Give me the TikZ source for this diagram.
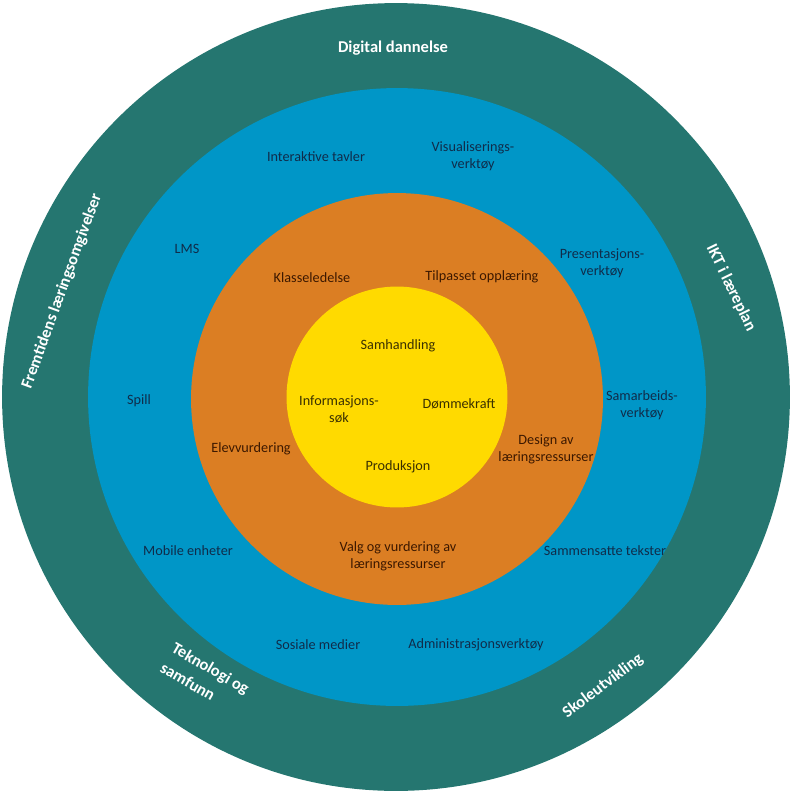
\documentclass[tikz,border=0pt]{standalone}
\usepackage{fontspec}
\setmainfont{Carlito}
\usetikzlibrary{positioning}

\definecolor{tealring}{RGB}{37,118,112}
\definecolor{bluering}{RGB}{0,150,199}
\definecolor{orangering}{RGB}{219,126,35}
\definecolor{yellowcore}{RGB}{255,218,0}
\definecolor{navytext}{RGB}{16,44,74}
\definecolor{browntext}{RGB}{60,24,0}
\definecolor{olivetext}{RGB}{58,48,0}

\begin{document}
\begin{tikzpicture}[
    x=0.02cm, y=-0.02cm,
    ring/.style={circle, inner sep=0pt, draw=none},
    outerlbl/.style={font=\fontsize{9.4}{13}\selectfont\bfseries, text=white, align=center},
    toollbl/.style={font=\fontsize{8.1}{9.6}\selectfont, text=navytext, align=center},
    practlbl/.style={font=\fontsize{8.1}{9.6}\selectfont, text=browntext, align=center},
    corelbl/.style={font=\fontsize{8.1}{9.6}\selectfont, text=olivetext, align=center}
]
\useasboundingbox (0,0) rectangle (792,795);
\node[ring, fill=tealring, minimum size=15.76cm] (outer) at (396,397) {};
\node[ring, fill=bluering, minimum size=12.36cm] (tools) at (397,397) {};
\node[ring, fill=orangering, minimum size=8.24cm] (practice) at (397,399) {};
\node[ring, fill=yellowcore, minimum size=4.42cm] (core) at (397,397) {};

% outer ring
\node[outerlbl] (digital) at (393,48) {Digital dannelse};
\node[outerlbl, rotate=70] (fremtid) at (62,291) {Fremtidens læringsomgivelser};
\node[outerlbl, rotate=-64] (ikt) at (731,288) {IKT i læreplan};
\node[outerlbl, rotate=-30, align=left] (teknologi) at (205,678) {Teknologi og\\samfunn};
\node[outerlbl, rotate=37] (skole) at (603,686) {Skoleutvikling};

% tools
\node[toollbl] (tavler) at (316,157) {Interaktive tavler};
\node[toollbl] (visual) at (473,156) {Visualiserings-\\verktøy};
\node[toollbl] (lms) at (187,249) {LMS};
\node[toollbl] (present) at (602,263) {Presentasjons-\\verktøy};
\node[toollbl] (spill) at (139,401) {Spill};
\node[toollbl] (samarb) at (642,405) {Samarbeids-\\verktøy};
\node[toollbl] (mobile) at (188,551) {Mobile enheter};
\node[toollbl] (sammen) at (605,551) {Sammensatte tekster};
\node[toollbl] (sosiale) at (318,645) {Sosiale medier};
\node[toollbl] (admin) at (476,645) {Administrasjonsverktøy};

% practice
\node[practlbl] (klasse) at (312,278) {Klasseledelse};
\node[practlbl] (tilpasset) at (482,277) {Tilpasset opplæring};
\node[practlbl] (elev) at (251,449) {Elevvurdering};
\node[practlbl] (design) at (546,449) {Design av\\læringsressurser};
\node[practlbl] (valg) at (398,556) {Valg og vurdering av\\læringsressurser};

% core
\node[corelbl] (samhandl) at (398,346) {Samhandling};
\node[corelbl] (info) at (339,409) {Informasjons-\\søk};
\node[corelbl] (dom) at (459,404) {Dømmekraft};
\node[corelbl] (prod) at (398,467) {Produksjon};
\end{tikzpicture}
\end{document}
